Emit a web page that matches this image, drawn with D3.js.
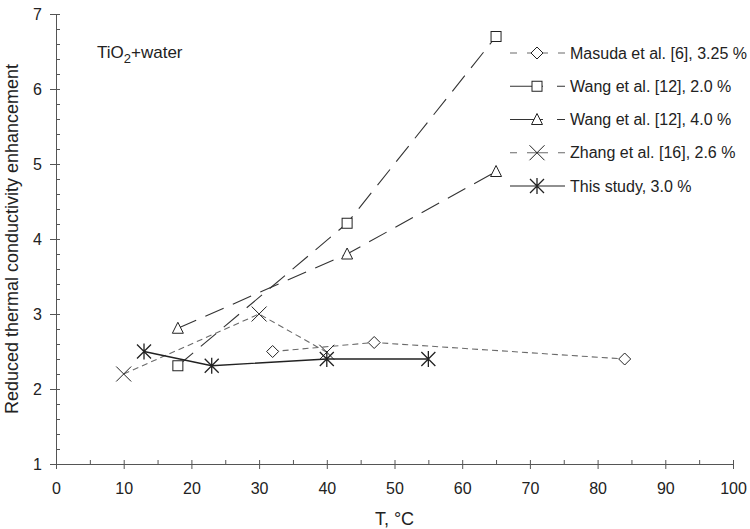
<!DOCTYPE html>
<html>
<head>
<meta charset="utf-8">
<script src="https://cdn.jsdelivr.net/npm/d3@7"></script>
<style>
  body { margin: 0; background: #fff; }
  svg { font-family: "Liberation Sans", Arial, sans-serif; }
</style>
</head>
<body>
<svg id="chart" width="750" height="529"></svg>
<script>
// data
var masudaT = [32, 47, 84];
var masudaK = [2.5, 2.62, 2.4];
var wang2T = [18, 43, 65];
var wang2K = [2.31, 4.21, 6.7];
var wang4T = [18, 43, 65];
var wang4K = [2.81, 3.8, 4.9];
var zhangT = [10, 30, 40];
var zhangK = [2.2, 3.0, 2.49];
var studyT = [13, 23, 40, 55];
var studyK = [2.5, 2.31, 2.4, 2.4];

var xTicks = [0, 10, 20, 30, 40, 50, 60, 70, 80, 90, 100];
var yTicks = [1, 2, 3, 4, 5, 6, 7];
var legendNames = ["Masuda et al. [6], 3.25 %", "Wang et al. [12], 2.0 %", "Wang et al. [12], 4.0 %",
    "Zhang et al. [16], 2.6 %", "This study, 3.0 %"];

function zip(xs, ys) {
    return xs.map(function (x, i) { return { x: x, y: ys[i] }; });
}

var series = [
    { pts: zip(masudaT, masudaK), marker: "diamond", dash: "6,4", color: "#6a6a6a", legDash: "7,10,21,10,7" },
    { pts: zip(wang2T, wang2K), marker: "square", dash: "20,10", color: "#333", legDash: "33,14,8" },
    { pts: zip(wang4T, wang4K), marker: "triangle", dash: "20,10", color: "#333", legDash: "33,14,8" },
    { pts: zip(zhangT, zhangK), marker: "cross", dash: "6,4", color: "#6a6a6a", legDash: "7,10,21,10,7" },
    { pts: zip(studyT, studyK), marker: "asterisk", dash: null, color: "#222", legDash: null }
];

var W = 750, H = 529;
var svg = d3.select("#chart");

var x = d3.scaleLinear().domain([0, 100]).range([56, 733]);
var y = d3.scaleLinear().domain([1, 7]).range([464, 14]);

var axisColor = "#555";

// minor ticks (inside)
svg.append("g")
    .attr("transform", "translate(0," + y(1) + ")")
    .call(d3.axisTop(x).tickValues(d3.range(5, 100, 10)).tickSize(4).tickFormat(""))
    .call(function (g) { g.select(".domain").remove(); g.selectAll("line").attr("stroke", axisColor); });
svg.append("g")
    .attr("transform", "translate(" + x(0) + ",0)")
    .call(d3.axisRight(y).tickValues(d3.range(1.2, 7, 0.2)).tickSize(4).tickFormat(""))
    .call(function (g) { g.select(".domain").remove(); g.selectAll("line").attr("stroke", axisColor); });

var xAxis = svg.append("g")
    .attr("transform", "translate(0," + y(1) + ")")
    .call(d3.axisBottom(x).tickValues(xTicks).tickSizeInner(5).tickSizeOuter(0).tickPadding(14).tickFormat(d3.format("d")));
var yAxis = svg.append("g")
    .attr("transform", "translate(" + x(0) + ",0)")
    .call(d3.axisLeft(y).tickValues(yTicks).tickSizeInner(6).tickSizeOuter(0).tickPadding(8).tickFormat(d3.format("d")));

[xAxis, yAxis].forEach(function (g) {
    g.selectAll("text").style("font-size", "16px").attr("fill", "#222");
    g.selectAll("line, path").attr("stroke", axisColor);
});
// major ticks cross the axis
yAxis.selectAll(".tick line").attr("x1", 4);
xAxis.selectAll(".tick line").attr("y1", -4);

svg.append("text")
    .attr("x", x(50)).attr("y", 525)
    .attr("text-anchor", "middle")
    .style("font-size", "18px").attr("fill", "#222")
    .text("T, °C");

svg.append("text")
    .attr("transform", "translate(18," + y(4) + ") rotate(-90)")
    .attr("text-anchor", "middle")
    .style("font-size", "18px").attr("fill", "#222")
    .text("Reduced thermal conductivity enhancement");

var label = svg.append("text")
    .attr("x", 97).attr("y", 58)
    .style("font-size", "17px").attr("fill", "#222");
label.append("tspan").text("TiO");
label.append("tspan").attr("dy", 5).style("font-size", "13px").text("2");
label.append("tspan").attr("dy", -5).text("+water");

function drawMarker(g, type, cx, cy) {
    var s = 5;
    if (type === "diamond") {
        s = 6;
        g.append("path").attr("d", "M" + cx + "," + (cy - s) + "L" + (cx + s) + "," + cy + "L" + cx + "," + (cy + s) + "L" + (cx - s) + "," + cy + "Z")
            .attr("fill", "white").attr("stroke", "#222");
    } else if (type === "square") {
        g.append("rect").attr("x", cx - s).attr("y", cy - s).attr("width", 2 * s).attr("height", 2 * s)
            .attr("fill", "white").attr("stroke", "#222");
    } else if (type === "triangle") {
        g.append("path").attr("d", "M" + cx + "," + (cy - 6) + "L" + (cx + 5.5) + "," + (cy + 5) + "L" + (cx - 5.5) + "," + (cy + 5) + "Z")
            .attr("fill", "white").attr("stroke", "#222");
    } else if (type === "cross") {
        var c = 7.5;
        g.append("path").attr("d", "M" + (cx - c) + "," + (cy - c) + "L" + (cx + c) + "," + (cy + c) + "M" + (cx - c) + "," + (cy + c) + "L" + (cx + c) + "," + (cy - c))
            .attr("stroke", "#222").attr("fill", "none");
    } else if (type === "asterisk") {
        var a = 7;
        g.append("path").attr("d", "M" + (cx - a) + "," + (cy - a) + "L" + (cx + a) + "," + (cy + a) + "M" + (cx - a) + "," + (cy + a) + "L" + (cx + a) + "," + (cy - a) + "M" + cx + "," + (cy - a - 1) + "L" + cx + "," + (cy + a + 1))
            .attr("stroke", "#222").attr("fill", "none").attr("stroke-width", 1.3);
    }
}

var line = d3.line().x(function (d) { return x(d.x); }).y(function (d) { return y(d.y); });

series.forEach(function (s) {
    svg.append("path")
        .datum(s.pts)
        .attr("d", line)
        .attr("fill", "none")
        .attr("stroke", s.color)
        .attr("stroke-width", s.dash ? 1.1 : 1.4)
        .attr("stroke-dasharray", s.dash);
});
series.forEach(function (s) {
    var g = svg.append("g");
    s.pts.forEach(function (p) { drawMarker(g, s.marker, x(p.x), y(p.y)); });
});

// legend
var legY = d3.scaleLinear().domain([0, 4]).range([53, 186]);
series.forEach(function (s, i) {
    var g = svg.append("g");
    var yy = legY(i);
    g.append("line")
        .attr("x1", 510).attr("x2", 565).attr("y1", yy).attr("y2", yy)
        .attr("stroke", s.color).attr("stroke-width", 1.2)
        .attr("stroke-dasharray", s.legDash);
    drawMarker(g, s.marker, 537, yy);
    g.append("text")
        .attr("x", 570).attr("y", yy).attr("dy", "0.35em")
        .style("font-size", "16px").attr("fill", "#222")
        .text(legendNames[i]);
});
</script>
</body>
</html>
